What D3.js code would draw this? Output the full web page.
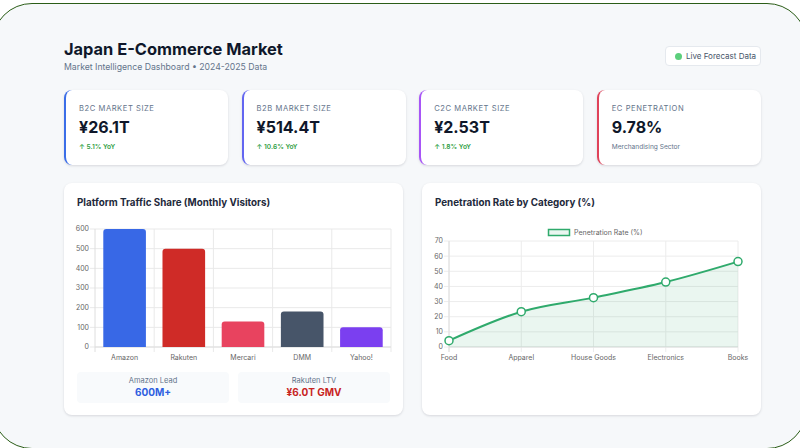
<!DOCTYPE html>
<html>
<head>
<meta charset="utf-8">
<script src="https://cdn.jsdelivr.net/npm/d3@7"></script>
<style>
  body { margin: 0; width: 800px; height: 448px; overflow: hidden; background: #fff; font-family: Inter, "Noto Sans", sans-serif; position: relative; }
  .frame { position: absolute; left: -8px; top: 3px; width: 813px; height: 444px; border: 1.5px solid #2b5d17; border-radius: 40px; background: #f6f8fa; }
  .abs { position: absolute; white-space: nowrap; }
  .card { position: absolute; background: #fff; border-radius: 8px; box-shadow: 0 1px 3px rgba(15,23,42,0.10), 0 1px 2px rgba(15,23,42,0.04); }
  .kpi-label { font-size: 7.6px; letter-spacing: 0.55px; color: #64748b; text-transform: uppercase; }
  .kpi-value { font-size: 16px; font-weight: 700; color: #0f172a; }
  .kpi-note { font-size: 6.6px; font-weight: 600; }
  .card-title { font-size: 9.8px; font-weight: 700; color: #1e293b; }
  .stat { position: absolute; background: #f8fafc; border-radius: 4px; text-align: center; }
  svg text { font-family: Inter, "Noto Sans", sans-serif; }
</style>
</head>
<body>
<div class="frame"></div>
<div id="page"></div>
<script>
// KPI cards
const kpiLabels = ["B2C Market Size", "B2B Market Size", "C2C Market Size", "EC Penetration"];
const kpiValues = ["¥26.1T", "¥514.4T", "¥2.53T", "9.78%"];
const kpiNotes = ["↑ 5.1% YoY", "↑ 10.6% YoY", "↑ 1.8% YoY", "Merchandising Sector"];

// platform traffic (monthly visitors, millions)
const platforms = ["Amazon", "Rakuten", "Mercari", "DMM", "Yahoo!"];
const visitors = [600, 500, 130, 180, 100];
const visitorTicks = [0, 100, 200, 300, 400, 500, 600];

// penetration rate by category (%)
const categories = ["Food", "Apparel", "House Goods", "Electronics", "Books"];
const penetration = [4.2, 23.3, 32.6, 42.9, 56.4];
const penetrationTicks = [0, 10, 20, 30, 40, 50, 60, 70];

const statLabels = ["Amazon Lead", "Rakuten LTV"];
const statValues = ["600M+", "¥6.0T GMV"];

const kpiColors = ["#3b6ee8", "#6366f1", "#a855f7", "#e0435a"];
const kpiNoteColors = ["#2f9e44", "#2f9e44", "#2f9e44", "#64748b"];
const barColors = ["#3868e6", "#cf2b27", "#e8435f", "#475569", "#7b3ff0"];
const statColors = ["#2f5fe0", "#c8241f"];
const lineColor = "#2faa6c";

const page = d3.select("#page");

// header
page.append("div").attr("class", "abs")
  .style("left", "64px").style("top", "39px")
  .style("font-size", "16.4px").style("font-weight", "700").style("color", "#0f172a")
  .text("Japan E-Commerce Market");
page.append("div").attr("class", "abs")
  .style("left", "64px").style("top", "61.5px")
  .style("font-size", "8.7px").style("color", "#64748b")
  .text("Market Intelligence Dashboard • 2024-2025 Data");

let badge = page.append("div").attr("class", "abs")
  .style("left", "665px").style("top", "46px").style("width", "96px").style("height", "20px")
  .style("background", "#fff").style("border", "1px solid #e5e9ee").style("border-radius", "4px")
  .style("box-sizing", "border-box");
badge.append("div").attr("class", "abs")
  .style("left", "9px").style("top", "6px").style("width", "7px").style("height", "7px")
  .style("border-radius", "50%").style("background", "#5ccf7c");
badge.append("div").attr("class", "abs")
  .style("left", "20px").style("top", "4px")
  .style("font-size", "8px").style("color", "#475569")
  .text("Live Forecast Data");

// kpi cards
const kpiX = d3.scaleBand().domain(d3.range(kpiLabels.length)).range([64, 761]).paddingInner(0.075);
kpiLabels.forEach(function(lab, i) {
  let c = page.append("div").attr("class", "card")
    .style("left", kpiX(i) + "px").style("top", "90px")
    .style("width", kpiX.bandwidth() + "px").style("height", "75px")
    .style("border-left", "2px solid " + kpiColors[i])
    .style("box-sizing", "border-box");
  c.append("div").attr("class", "abs kpi-label").style("left", "13px").style("top", "14px").text(lab);
  c.append("div").attr("class", "abs kpi-value").style("left", "13px").style("top", "27px").text(kpiValues[i]);
  c.append("div").attr("class", "abs kpi-note").style("left", "13px").style("top", "53px")
    .style("color", kpiNoteColors[i])
    .style("font-weight", i == 3 ? "400" : "600")
    .text(kpiNotes[i]);
});

// chart cards
function chartCard(x, title) {
  let c = page.append("div").attr("class", "card")
    .style("left", x + "px").style("top", "183px")
    .style("width", "339px").style("height", "232px");
  c.append("div").attr("class", "abs card-title").style("left", "13px").style("top", "14px").text(title);
  return c;
}

// ---- bar chart
let left = chartCard(64, "Platform Traffic Share (Monthly Visitors)");
let svgL = left.append("svg").attr("class", "abs").style("left", 0).style("top", 0)
  .attr("width", 339).attr("height", 232);
let xb = d3.scaleBand().domain(platforms).range([31, 327]);
let yb = d3.scaleLinear().domain([0, 600]).range([164, 46]);

svgL.append("g").selectAll("line").data(visitorTicks).join("line")
  .attr("x1", 26).attr("x2", 327)
  .attr("y1", d => yb(d)).attr("y2", d => yb(d))
  .attr("stroke", "#e9e9e9").attr("stroke-width", 1);
svgL.append("g").selectAll("line").data(platforms.slice(1).concat(["end"])).join("line")
  .attr("x1", (d, i) => i < platforms.length - 1 ? xb(d) : 327)
  .attr("x2", (d, i) => i < platforms.length - 1 ? xb(d) : 327)
  .attr("y1", 46).attr("y2", 169)
  .attr("stroke", "#e9e9e9");
svgL.append("line").attr("x1", 31).attr("x2", 31).attr("y1", 46).attr("y2", 169).attr("stroke", "#dedede");
svgL.append("line").attr("x1", 31).attr("x2", 327).attr("y1", 164).attr("y2", 164).attr("stroke", "#dedede");

svgL.append("g").selectAll("text").data(visitorTicks).join("text")
  .attr("x", 25).attr("y", d => yb(d)).attr("dy", "0.35em")
  .attr("text-anchor", "end").attr("font-size", 7).attr("fill", "#666")
  .text(d => d);

let bw = xb.bandwidth() * 0.72;
svgL.append("g").selectAll("path").data(visitors).join("path")
  .attr("d", function(d, i) {
    let x0 = xb(platforms[i]) + (xb.bandwidth() - bw) / 2, x1 = x0 + bw;
    let y0 = yb(d), y1 = yb(0), r = 3;
    return "M" + x0 + "," + y1 + "V" + (y0 + r) + "Q" + x0 + "," + y0 + " " + (x0 + r) + "," + y0 +
      "H" + (x1 - r) + "Q" + x1 + "," + y0 + " " + x1 + "," + (y0 + r) + "V" + y1 + "Z";
  })
  .attr("fill", (d, i) => barColors[i]);

svgL.append("g").selectAll("text").data(platforms).join("text")
  .attr("x", d => xb(d) + xb.bandwidth() / 2).attr("y", 177)
  .attr("text-anchor", "middle").attr("font-size", 7).attr("fill", "#666")
  .text(d => d);

// stat boxes under the bars
statLabels.forEach(function(lab, i) {
  let s = left.append("div").attr("class", "stat")
    .style("left", (13 + i * 161) + "px").style("top", "189px")
    .style("width", "152px").style("height", "31px");
  s.append("div").style("font-size", "7.5px").style("color", "#64748b").style("margin-top", "4px").text(lab);
  s.append("div").style("font-size", "10px").style("font-weight", "700").style("color", statColors[i])
    .style("margin-top", "1px").text(statValues[i]);
});

// ---- line chart
let right = chartCard(422, "Penetration Rate by Category (%)");
let svgR = right.append("svg").attr("class", "abs").style("left", 0).style("top", 0)
  .attr("width", 339).attr("height", 232);
let xp = d3.scalePoint().domain(categories).range([27, 316]);
let yp = d3.scaleLinear().domain([0, 70]).range([164, 58]);

svgR.append("g").selectAll("line").data(penetrationTicks).join("line")
  .attr("x1", 22).attr("x2", 316)
  .attr("y1", d => yp(d)).attr("y2", d => yp(d))
  .attr("stroke", "#ececec");
svgR.append("g").selectAll("line").data(categories).join("line")
  .attr("x1", d => xp(d)).attr("x2", d => xp(d))
  .attr("y1", 58).attr("y2", 169)
  .attr("stroke", "#ececec");
svgR.append("line").attr("x1", 27).attr("x2", 27).attr("y1", 58).attr("y2", 169).attr("stroke", "#dedede");
svgR.append("line").attr("x1", 27).attr("x2", 316).attr("y1", 164).attr("y2", 164).attr("stroke", "#dedede");

svgR.append("g").selectAll("text").data(penetrationTicks).join("text")
  .attr("x", 21).attr("y", d => yp(d)).attr("dy", "0.35em")
  .attr("text-anchor", "end").attr("font-size", 7).attr("fill", "#666")
  .text(d => d);
svgR.append("g").selectAll("text").data(categories).join("text")
  .attr("x", d => xp(d)).attr("y", 177)
  .attr("text-anchor", "middle").attr("font-size", 7).attr("fill", "#666")
  .text(d => d);

let pts = categories.map((c, i) => [xp(c), yp(penetration[i])]);
svgR.append("path")
  .attr("d", d3.area().x(d => d[0]).y0(yp(0)).y1(d => d[1]).curve(d3.curveMonotoneX)(pts))
  .attr("fill", "rgba(47,170,108,0.10)");
svgR.append("path")
  .attr("d", d3.line().curve(d3.curveMonotoneX)(pts))
  .attr("fill", "none").attr("stroke", lineColor).attr("stroke-width", 2);
svgR.append("g").selectAll("circle").data(pts).join("circle")
  .attr("cx", d => d[0]).attr("cy", d => d[1]).attr("r", 4)
  .attr("fill", "#fff").attr("stroke", lineColor).attr("stroke-width", 1.5);

// legend
svgR.append("rect").attr("x", 126.5).attr("y", 46.5).attr("width", 21).attr("height", 6)
  .attr("fill", "rgba(47,170,108,0.10)").attr("stroke", lineColor).attr("stroke-width", 1.5);
svgR.append("text").attr("x", 152).attr("y", 49.5).attr("dy", "0.35em")
  .attr("font-size", 7).attr("fill", "#666").text("Penetration Rate (%)");
</script>
</body>
</html>
